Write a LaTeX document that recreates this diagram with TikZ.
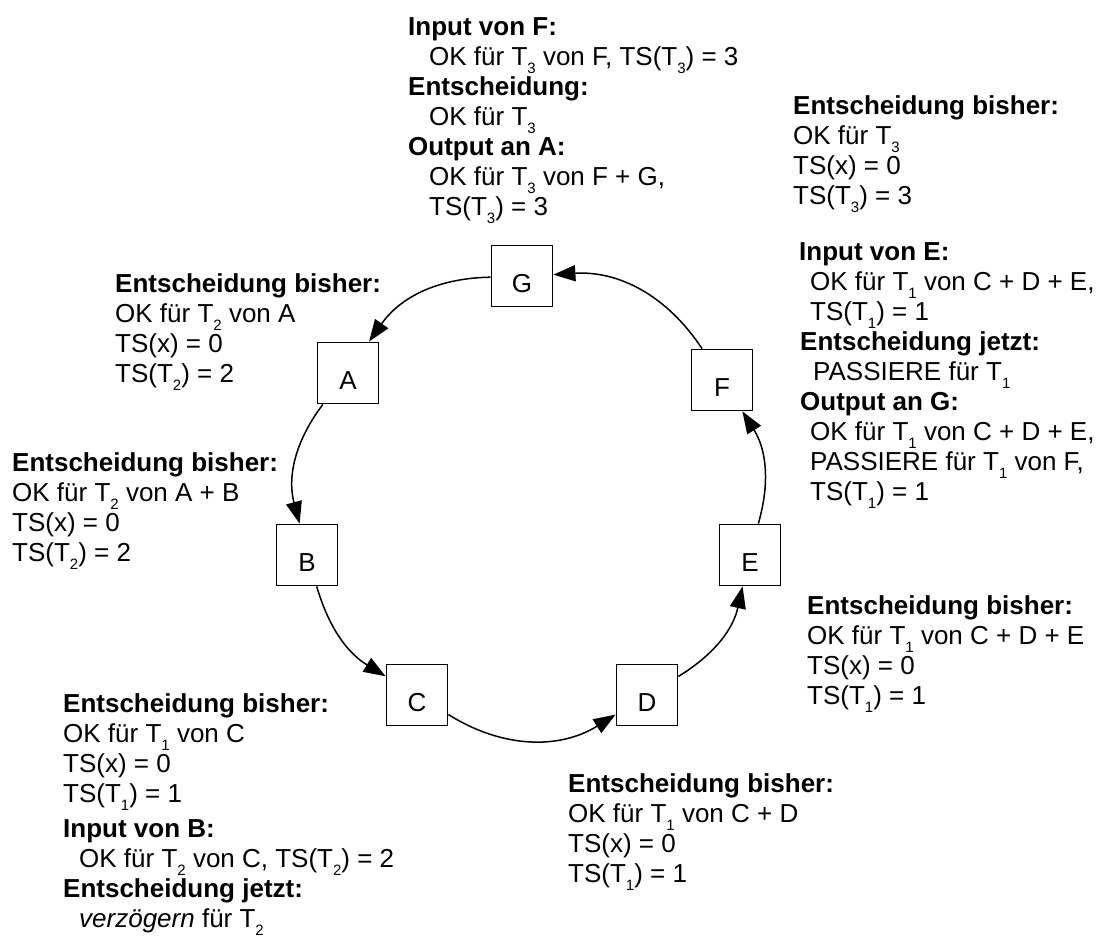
\documentclass[tikz,border=0pt]{standalone}
\usepackage{fontspec}
\setmainfont{Liberation Sans}
\usetikzlibrary{arrows.meta}

% tiefgestellter Index wie T_1
\newcommand{\tidx}[1]{\raisebox{-8.5pt}{\fontsize{15}{15}\selectfont #1}}

\begin{document}
\begin{tikzpicture}[
    x=1pt, y=-1pt,
    station/.style={draw=black, line width=1.8pt, minimum size=61pt, inner sep=0pt, text height=33pt, text depth=0pt, font=\fontsize{26}{30}\selectfont},
    info/.style={anchor=north west, inner sep=0pt, align=left, font=\fontsize{26}{30}\selectfont},
    ring/.style={draw=black, line width=1.5pt, -{Triangle[length=22pt, width=16pt]}}
]
\useasboundingbox (0,0) rectangle (1118,938);

% Mittelpunkte der Stationen im Ring
\coordinate (pG) at (522,276);
\coordinate (pA) at (348,373);
\coordinate (pB) at (307,555);
\coordinate (pC) at (417,695);
\coordinate (pD) at (647,695);
\coordinate (pE) at (750,555);
\coordinate (pF) at (722,380);

% Stationen als Quadrate
\node[station] (G) at (pG) {G};
\node[station] (A) at (pA) {A};
\node[station] (B) at (pB) {B};
\node[station] (C) at (pC) {C};
\node[station] (D) at (pD) {D};
\node[station] (E) at (pE) {E};
\node[station] (F) at (pF) {F};

% Nachrichten entlang des Rings
\draw[ring] (G) to[bend right=27] (A);
\draw[ring] (A) to[bend right=26] (B);
\draw[ring] (B) to[bend right=21] (C);
\draw[ring] (C) to[bend right=32] (D);
\draw[ring] (D) to[bend right=23] (E);
\draw[ring] (E) to[bend right=24] (F);
\draw[ring] (F) to[bend right=30] (G);

% Zustand bei G
\node[info] (infoG) at (408,17) {\textbf{Input von F:}\\
  \hspace*{21pt}OK für T\tidx{3} von F, TS(T\tidx{3}) = 3\\
  \textbf{Entscheidung:}\\
  \hspace*{21pt}OK für T\tidx{3}\\
  \textbf{Output an A:}\\
  \hspace*{21pt}OK für T\tidx{3} von F + G,\\
  \hspace*{21pt}TS(T\tidx{3}) = 3};

% Zustand bei F
\node[info] (infoF) at (793,95) {\textbf{Entscheidung bisher:}\\
  OK für T\tidx{3}\\
  TS(x) = 0\\
  TS(T\tidx{3}) = 3};
\node[info] (inputF) at (799,242) {\textbf{Input von E:}\\
  \hspace*{11pt}OK für T\tidx{1} von C + D + E,\\
  \hspace*{11pt}TS(T\tidx{1}) = 1\\
  \hspace*{1pt}\textbf{Entscheidung jetzt:}\\
  \hspace*{14pt}PASSIERE für T\tidx{1}\\
  \hspace*{1pt}\textbf{Output an G:}\\
  \hspace*{11pt}OK für T\tidx{1} von C + D + E,\\
  \hspace*{11pt}PASSIERE für T\tidx{1} von F,\\
  \hspace*{11pt}TS(T\tidx{1}) = 1};

% Zustand bei A
\node[info] (infoA) at (115,273) {\textbf{Entscheidung bisher:}\\
  OK für T\tidx{2} von A\\
  TS(x) = 0\\
  TS(T\tidx{2}) = 2};

% Zustand bei B
\node[info] (infoB) at (12,452) {\textbf{Entscheidung bisher:}\\
  OK für T\tidx{2} von A + B\\
  TS(x) = 0\\
  TS(T\tidx{2}) = 2};

% Zustand bei C
\node[info] (infoC) at (63,693) {\textbf{Entscheidung bisher:}\\
  OK für T\tidx{1} von C\\
  TS(x) = 0\\
  TS(T\tidx{1}) = 1};
\node[info] (inputC) at (63,819) {\textbf{Input von B:}\\
  \hspace*{16pt}OK für T\tidx{2} von C, TS(T\tidx{2}) = 2\\
  \textbf{Entscheidung jetzt:}\\
  \hspace*{16pt}\textit{verzögern} für T\tidx{2}};

% Zustand bei D
\node[info] (infoD) at (568,773) {\textbf{Entscheidung bisher:}\\
  OK für T\tidx{1} von C + D\\
  TS(x) = 0\\
  TS(T\tidx{1}) = 1};

% Zustand bei E
\node[info] (infoE) at (807,595) {\textbf{Entscheidung bisher:}\\
  OK für T\tidx{1} von C + D + E\\
  TS(x) = 0\\
  TS(T\tidx{1}) = 1};

\end{tikzpicture}
\end{document}
